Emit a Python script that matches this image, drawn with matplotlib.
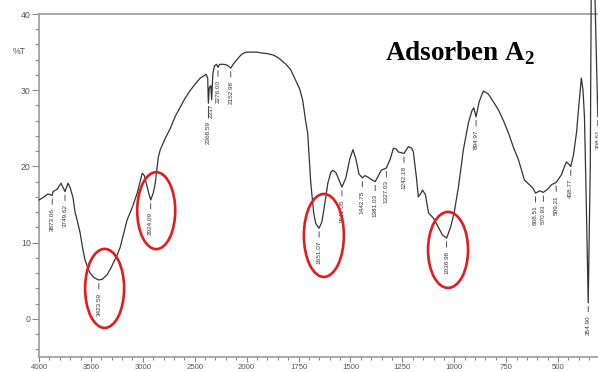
import numpy as np
import matplotlib
matplotlib.use("Agg")
import matplotlib.pyplot as plt
from matplotlib.patches import Ellipse
from matplotlib.ticker import FixedLocator, NullFormatter
from matplotlib.transforms import IdentityTransform

plt.rcParams['font.family'] = ['Liberation Sans', 'DejaVu Sans']
plt.rcParams['mathtext.fontset'] = 'custom'
plt.rcParams['mathtext.bf'] = 'Liberation Serif:bold'
plt.rcParams['mathtext.rm'] = 'Liberation Serif:bold'

# FTIR spectrum (wavenumber cm-1, %T)
wavenumber = [
    4000, 3952, 3913, 3873.06, 3865, 3826, 3788, 3770, 3749.62, 3720, 3700,
    3672, 3653, 3630, 3604, 3580, 3556, 3530, 3508, 3470, 3440, 3423.59,
    3390, 3344, 3310, 3286, 3250, 3218, 3185, 3151, 3102, 3054, 3030, 3006,
    2985, 2967, 2945, 2924.09, 2900, 2880, 2851, 2832, 2780, 2735, 2690,
    2639, 2590, 2542, 2490, 2446, 2410, 2390, 2375, 2368.59, 2360, 2345,
    2337, 2325, 2310, 2290, 2276, 2260, 2220, 2190, 2170, 2152.98, 2130,
    2100, 2070, 2040, 2000, 1980, 1950, 1932, 1900, 1870, 1850, 1836, 1810,
    1788, 1764, 1745, 1730, 1715, 1706, 1691, 1677, 1667, 1651.07, 1638,
    1628, 1609, 1595, 1585, 1570, 1561, 1541.05, 1522, 1503, 1488, 1474,
    1459, 1442.75, 1430, 1416, 1400, 1381.03, 1365, 1352, 1327.03, 1308,
    1293, 1280, 1269, 1242.18, 1221, 1205, 1197, 1182, 1173, 1160, 1153,
    1139, 1124, 1100, 1076, 1057, 1036.98, 1018, 1000, 980, 956, 932, 915,
    906, 894.97, 880, 860, 836, 812, 787, 763, 739, 715, 691, 662, 638, 620,
    608.51, 589, 570.93, 551, 532, 509.21, 484, 469, 460, 445, 438.77, 426,
    411, 402, 388, 380, 373, 364, 354.90, 345, 340, 325, 315, 308.61, 302,
]
transmittance = [
    15.6, 16.0, 16.4, 16.2, 16.7, 17.0, 17.8, 17.3, 16.7, 17.8, 17.2,
    15.9, 14.0, 12.8, 11.3, 9.3, 7.7, 6.7, 6.0, 5.4, 5.2, 5.1,
    5.2, 5.8, 6.6, 7.3, 8.3, 9.4, 11.2, 13.0, 14.6, 16.5, 17.8, 19.1,
    18.8, 17.8, 16.6, 15.6, 16.5, 17.8, 21.2, 22.2, 23.8, 25.0, 26.5,
    27.8, 29.0, 30.0, 30.9, 31.6, 31.9, 32.1, 31.6, 28.3, 30.3, 30.6,
    28.8, 32.2, 33.2, 33.4, 33.0, 33.4, 33.4, 33.3, 33.1, 32.9, 33.4,
    33.9, 34.4, 34.8, 35.0, 35.0, 35.0, 34.9, 34.8, 34.6, 34.3, 34.0, 33.4,
    32.7, 31.3, 30.2, 28.7, 25.8, 24.4, 17.8, 13.9, 12.5, 11.9, 12.7,
    14.3, 17.8, 19.2, 19.5, 19.2, 18.6, 17.3, 18.5, 21.0, 22.2, 21.0,
    19.0, 18.5, 18.8, 18.6, 18.3, 18.0, 18.8, 19.5, 19.8, 21.0,
    22.4, 22.3, 21.9, 21.7, 22.6, 22.4, 21.9, 18.5, 16.0, 16.5, 16.9,
    16.3, 13.9, 13.2, 12.0, 11.0, 10.6, 12.0, 14.0, 17.3, 22.2, 25.7, 27.3,
    27.7, 26.5, 28.5, 29.9, 29.5, 28.5, 27.4, 26.0, 24.4, 22.5, 20.9, 18.2,
    17.6, 17.1, 16.5, 16.8, 16.6, 17.0, 17.6, 17.9, 18.9, 20.0, 20.6, 20.2,
    20.0, 21.5, 24.5, 27.4, 31.6, 30.0, 26.5, 15.0, 2.1, 20.0, 45.0, 45.0,
    34.0, 26.5, 29.0,
]

# peak picks printed under the minima
peak_positions = [3873.06, 3749.62, 3423.59, 2924.09, 2368.59, 2337, 2276,
                  2152.98, 1651.07, 1541.05, 1442.75, 1381.03, 1327.03,
                  1242.18, 1036.98, 894.97, 608.51, 570.93, 509.21, 438.77,
                  354.90, 308.61]
peak_labels = ['3873.06', '3749.62', '3423.59', '2924.09', '2368.59', '2337',
               '2276.00', '2152.98', '1651.07', '1541.05', '1442.75',
               '1381.03', '1327.03', '1242.18', '1036.98', '894.97',
               '608.51', '570.93', '509.21', '438.77', '354.90', '308.61']
# leader length (points) where two picks sit close together
leader = {2368.59: 13, 2337: 3}

# bands circled in red (wavenumber, %T)
circled = [(3368, 4.0), (2871, 14.2), (1628, 10.95), (1030, 9.05)]

x_ticks = [4000, 3500, 3000, 2500, 2000, 1750, 1500, 1250, 1000, 750, 500]
y_ticks = [0, 10, 20, 30, 40]


# instrument-style axis: 500 cm-1 per division above 2000, 250 below
def forward(w):
    w = np.asarray(w, dtype=float)
    return np.where(w >= 2000, (w - 4000) / 500, -4 - (2000 - w) / 250)


def inverse(u):
    u = np.asarray(u, dtype=float)
    return np.where(u >= -4, 4000 + 500 * u, 2000 - 250 * (-u - 4))


fig = plt.figure(figsize=(5.98, 3.72), dpi=100)
ax = fig.add_axes([39 / 598, 15 / 372, 1 - 39 / 598 + 0.002, 343 / 372])
ax.set_xscale('function', functions=(forward, inverse))
ax.set_xlim(4000, 302)
ax.set_ylim(-5, 40)

ax.plot(wavenumber, transmittance, color='#333333', lw=0.9, clip_on=False,
        zorder=3)

ax.xaxis.set_major_locator(FixedLocator(x_ticks))
ax.xaxis.set_minor_locator(FixedLocator(
    list(range(4000, 2000, -100)) + list(range(2000, 299, -50))))
ax.set_xticklabels([str(t) for t in x_ticks])
ax.xaxis.set_minor_formatter(NullFormatter())
ax.yaxis.set_major_locator(FixedLocator(y_ticks))
ax.yaxis.set_minor_locator(FixedLocator(range(-4, 40, 2)))
ax.set_yticklabels([str(t) for t in y_ticks])

ax.spines['right'].set_visible(False)
for side in ['top', 'left', 'bottom']:
    ax.spines[side].set_color('#999999')
    ax.spines[side].set_linewidth(1.2)

ax.tick_params(axis='x', which='major', direction='out', length=3.5,
               width=0.8, color='#888888', labelsize=5.6,
               labelcolor='#555555', pad=1.5)
ax.tick_params(axis='x', which='minor', direction='out', length=2.2,
               width=0.8, color='#888888')
ax.tick_params(axis='y', which='major', direction='out', length=5,
               width=0.8, color='#888888', labelsize=6.3,
               labelcolor='#555555', pad=1)
ax.tick_params(axis='y', which='minor', direction='out', length=3,
               width=0.8, color='#888888')

# peak labels: short leader line below each minimum, text reading upward
T_at = dict(zip(wavenumber, transmittance))
for w, lab in zip(peak_positions, peak_labels):
    ax.annotate(lab, xy=(w, T_at[w]), xytext=(0, -leader.get(w, 9)),
                textcoords='offset points', rotation=90, ha='center',
                va='top', fontsize=4.6, color='#333333',
                arrowprops=dict(arrowstyle='-', color='#333333', lw=0.6,
                                shrinkA=0.5, shrinkB=2.5))

fig.text(19 / 598, 1 - 52 / 372, '%T', fontsize=6.3, color='#555555',
         ha='center', va='center')
fig.text(460 / 598, 1 - 53 / 372, r'Adsorben A$_\mathbf{2}$',
         family='Liberation Serif', weight='bold', fontsize=19.5,
         ha='center', va='center')

# red ellipses around the main bands
sizes = [(39, 79), (38, 77), (40, 83), (40, 76)]
for (w, t), (ew, eh) in zip(circled, sizes):
    cx, cy = ax.transData.transform((w, t))
    ax.add_patch(Ellipse((cx, cy), ew, eh, transform=IdentityTransform(),
                         fill=False, edgecolor='#e31b1b', lw=1.9,
                         clip_on=False, zorder=4))

fig.savefig('out.png', dpi=100)
